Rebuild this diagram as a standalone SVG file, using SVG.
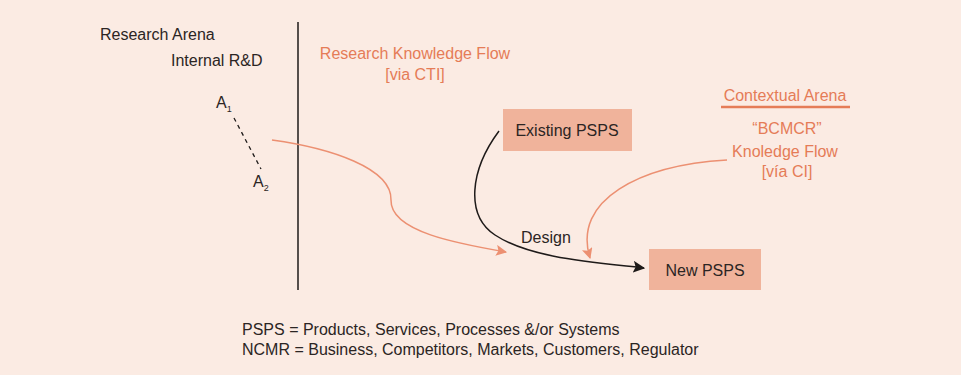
<svg xmlns="http://www.w3.org/2000/svg" width="961" height="375" viewBox="0 0 961 375">
<defs>
<style>
text{font-family:"Liberation Sans",Arial,sans-serif;font-size:16px;fill:#2b2523}
.or{fill:#e57c57}
.box{fill:#f0b39b}
.ol{fill:none;stroke:#ec9072;stroke-width:1.5}
.bl{fill:none;stroke:#1e1a19;stroke-width:1.5}
</style>
<marker id="ao" viewBox="0 0 10 10" refX="9" refY="5" markerWidth="11" markerHeight="11" markerUnits="userSpaceOnUse" orient="auto"><path d="M0,0L10,5L0,10L2,5Z" fill="#ec9072"/></marker>
<marker id="ab" viewBox="0 0 10 10" refX="9" refY="5" markerWidth="12" markerHeight="12" markerUnits="userSpaceOnUse" orient="auto"><path d="M0,0L10,5L0,10L2,5Z" fill="#1e1a19"/></marker>
</defs>
<rect width="961" height="375" fill="#fbebe3"/>
<line x1="298" y1="22" x2="298" y2="290" stroke="#1e1a19" stroke-width="1.5"/>
<text x="100" y="40">Research Arena</text>
<text x="171" y="66">Internal R&amp;D</text>
<text class="or" x="415" y="59" text-anchor="middle">Research Knowledge Flow</text>
<text class="or" x="415" y="80" text-anchor="middle">[via CTI]</text>
<g id="a1"><text x="216" y="108">A<tspan style="font-size:9px" dy="4">1</tspan></text></g>
<g id="a2"><text x="253" y="187">A<tspan style="font-size:9px" dy="4">2</tspan></text></g>
<g id="connectors">
<line x1="234" y1="118" x2="261" y2="169" stroke="#1e1a19" stroke-width="1.3" stroke-dasharray="4,4"/>
<path class="ol" d="M272,140 C330,148 392,168 391,200 C390,232 460,244 506,252" marker-end="url(#ao)"/>
<path class="bl" d="M499,131 C470,170 465,215 495,235 C530,258 590,262 644,268" marker-end="url(#ab)"/>
<path class="ol" d="M727,160 C640,165 572,200 590,258" marker-end="url(#ao)"/>
</g>
<g id="existing">
<rect class="box" x="503" y="109" width="129" height="42"/>
<text x="567" y="136" text-anchor="middle">Existing PSPS</text>
</g>
<g id="new">
<rect class="box" x="649" y="249" width="112" height="41"/>
<text x="705" y="276" text-anchor="middle">New PSPS</text>
</g>
<text x="521" y="243">Design</text>
<g id="context">
<text class="or" x="785" y="101" text-anchor="middle">Contextual Arena</text>
<line x1="721" y1="107" x2="850" y2="107" stroke="#e57c57" stroke-width="2.5"/>
<text class="or" x="787" y="134" text-anchor="middle">“BCMCR”</text>
<text class="or" x="785" y="157" text-anchor="middle">Knoledge Flow</text>
<text class="or" x="787" y="177" text-anchor="middle">[vía CI]</text>
</g>
<text x="242" y="335">PSPS = Products, Services, Processes &amp;/or Systems</text>
<text x="242" y="355">NCMR = Business, Competitors, Markets, Customers, Regulator</text>
</svg>
